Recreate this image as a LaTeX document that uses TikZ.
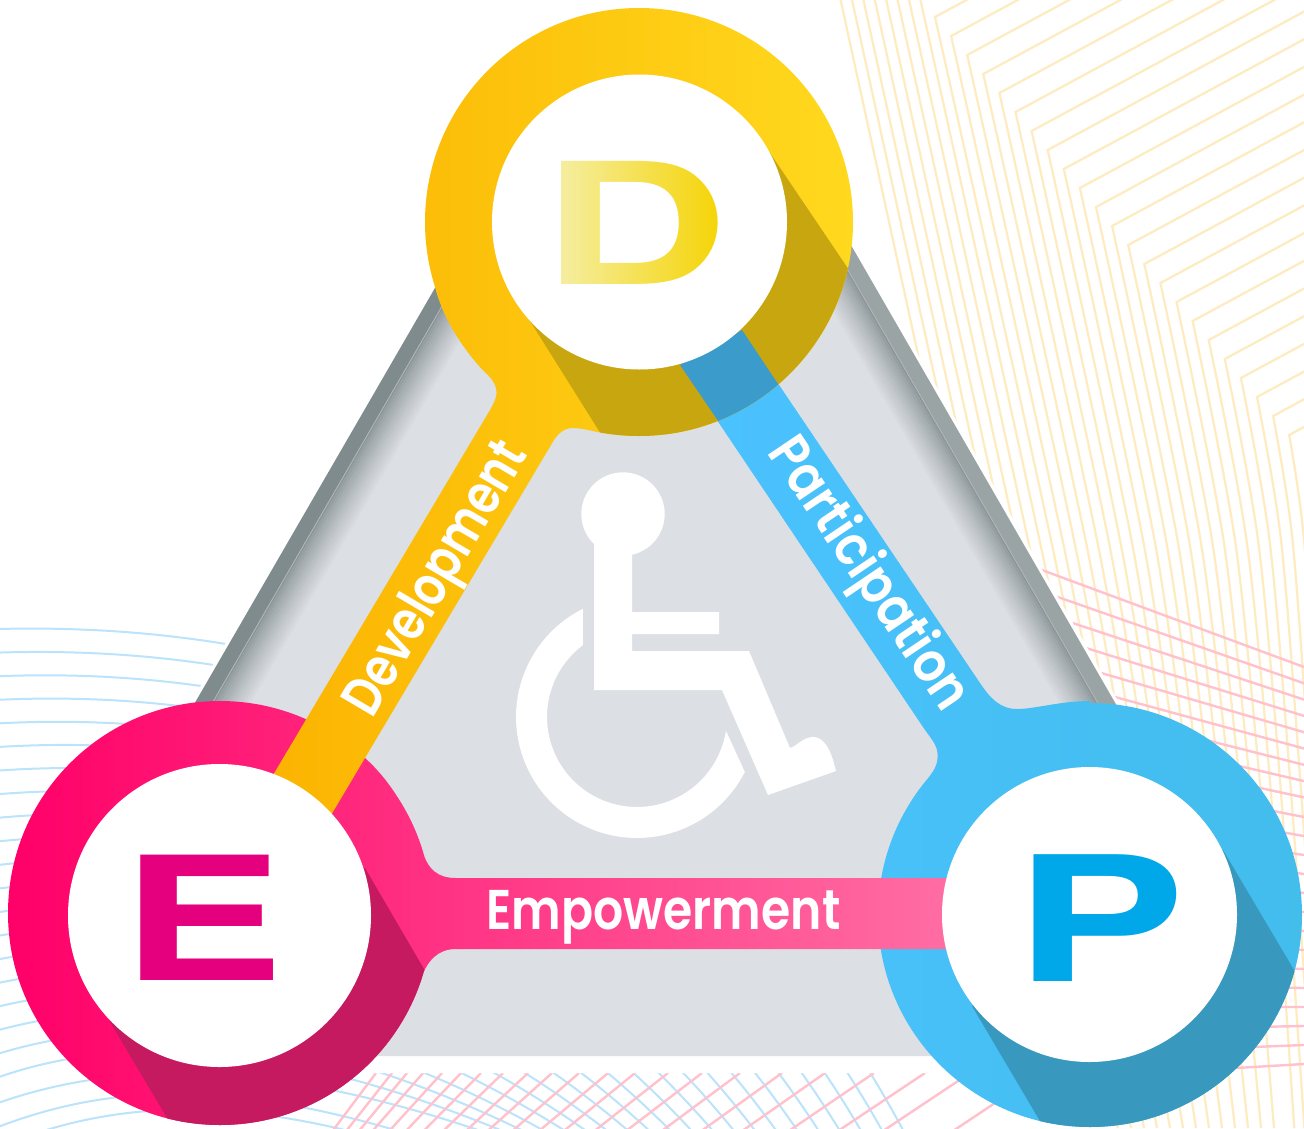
\documentclass[tikz,border=0pt]{standalone}
\usepackage{fontspec}
\usepackage{graphicx}
\newfontfamily\lblfont{Poppins}[UprightFont=* SemiBold]
\newfontfamily\capfont{TeX Gyre Heros}[UprightFont=*-Bold]
\definecolor{ylw}{HTML}{FEEBC0}
\definecolor{pnk}{HTML}{FFC1CC}
\definecolor{blu}{HTML}{BBE3FC}
\definecolor{trigray}{HTML}{DCDFE4}
\definecolor{darkL}{HTML}{7F8B8D}
\definecolor{darkR}{HTML}{9AA4A5}
\definecolor{gradS}{HTML}{8C9698}
\definecolor{shadeD}{HTML}{C8A610}
\definecolor{shadeE}{HTML}{C51A60}
\definecolor{shadeP}{HTML}{3998BE}
\definecolor{shadeB}{HTML}{3B9BCB}
\tikzset{
  ylwline/.style={draw=ylw,line width=2.2pt},
  pnkline/.style={draw=pnk,line width=2.4pt},
  bluline/.style={draw=blu,line width=2pt},
  lbl/.style={text=white,inner sep=0pt,anchor=base,font=\lblfont\fontsize{56}{56}\selectfont},
  bigcap/.style={inner sep=0pt,anchor=base west}
}
\newcommand{\Dbody}{(639,222) circle (214) (600,432) .. controls (590,431) and (582,428) .. (573,428) .. controls (562,428) and (556,436) .. (551,445) -- (321,832) -- (263,792) -- (490,410) .. controls (495,401) and (498,395) .. (496,388) .. controls (493,378) and (486,374) .. (480,367) .. controls (460,345) and (442,315) .. (435,287) -- (639,222) -- cycle}
\newcommand{\Ebody}{(220,913) circle (212) (365,758) .. controls (395,785) and (412,820) .. (422,850) .. controls (428,870) and (438,878) .. (456,878) -- (950,878) -- (950,949) -- (456,949) .. controls (438,949) and (428,960) .. (421,978) .. controls (412,1005) and (402,1022) .. (389,1040) -- (220,913) -- cycle}
\newcommand{\Pbody}{(1090,915) circle (212) (925,782) .. controls (932,773) and (940,765) .. (937,750) .. controls (935,742) and (929,736) .. (923,727) -- (680,365) -- (742,330) -- (980,683) .. controls (990,698) and (1000,709) .. (1017,709) .. controls (1035,709) and (1060,701) .. (1090,701) -- (1090,915) -- cycle}
\begin{document}
\begin{tikzpicture}[x=1pt,y=-1pt]
\useasboundingbox (0,0) rectangle (1304,1128);
\clip (0,0) rectangle (1304,1128);
\fill[white] (0,0) rectangle (1304,1128);
% yellow chevrons
\foreach \i in {-8,...,22}{
  \pgfmathsetmacro{\xa}{1028+11.5*(\i+2)}
  \pgfmathsetmacro{\sl}{0.24-0.00571*(\i+8)}
  \pgfmathsetmacro{\xb}{\xa+\sl*240}
  \ifnum\i<0
    \pgfmathsetmacro{\tx}{920+11.4*(\i+1)}
    \pgfmathsetmacro{\xc}{\xb+\sl*20}
    \draw[ylwline] plot[smooth,tension=.5] coordinates {(\tx,-2) (\xa,540) (\xb,780) (\xc,800)};
  \else
    \pgfmathsetmacro{\cx}{935+16.1*\i}
    \pgfmathsetmacro{\cy}{17+19*\i}
    \pgfmathsetmacro{\ey}{\cy-0.54*(1310-\cx)}
    \ifnum\i<17\relax
      \pgfmathsetmacro{\xc}{\xb+\sl*20}
      \draw[ylwline] (1310,\ey) -- (\cx,\cy) -- plot[smooth,tension=.5] coordinates {(\cx,\cy) (\xa,540) (\xb,780) (\xc,800)};
    \else
      \pgfmathsetmacro{\xc}{\xb+0.07*348}
      \draw[ylwline] (1310,\ey) -- (\cx,\cy) -- plot[smooth,tension=.5] coordinates {(\cx,\cy) (\xa,540) (\xb,780) (\xc,1128)};
    \fi
  \fi
}
\foreach \k in {1,...,13}{
  \pgfmathsetmacro{\xe}{1287-13*\k}
  \pgfmathsetmacro{\xs}{\xe-(0.07+0.012*\k)*328}
  \draw[ylwline] (\xs,800) -- (\xe,1128);
}
% pink lines, right
\foreach \k in {0,...,22}{
  \pgfmathsetmacro{\ry}{\k<9 ? 667+16.3*\k : 798+19*(\k-8)}
  \pgfmathsetmacro{\sk}{0.37-0.0195*\k}
  \pgfmathsetmacro{\ly}{\ry-\sk*304}
  \draw[pnkline] (1000,\ly) -- (1304,\ry);
}
% blue arcs
\foreach \j in {0,...,19}{
  \pgfmathsetmacro{\ya}{629+23.6*\j}
  \pgfmathsetmacro{\ax}{350-12.1*\j}
  \pgfmathsetmacro{\ay}{620+21.8*\j}
  \pgfmathsetmacro{\bx}{700-22*\j}
  \pgfmathsetmacro{\by}{750+15.3*\j}
  \pgfmathsetmacro{\cx}{903-21.2*\j}
  \draw[bluline] (-2,\ya) .. controls (\ax,\ay) and (\bx,\by) .. (\cx,1130);
}
\draw[bluline] (-2,1103) .. controls (120,1060) and (270,1060) .. (478,1130);
\draw[bluline] (-2,1127) .. controls (120,1080) and (240,1085) .. (395,1130);
\draw[bluline] (40,1132) .. controls (140,1100) and (240,1105) .. (345,1130);
% pink lines, bottom
\foreach \tx [count=\n from 0] in {376,392,407,423,442,461,481,503,528,552,579,608,635,668,702,740,782,825,874,925,970,1040}{
  \pgfmathsetmacro{\rt}{min(1.5,0.75+0.04*\n)}
  \pgfmathsetmacro{\xe}{\tx-\rt*60}
  \draw[pnkline] (\tx,1073) -- (\xe,1133);
}
% white margin and triangle
\fill[white] (453,250) -- (849,235) -- (1129,720) -- (1000,1073) -- (340,1073) -- (181,720) -- cycle;
\fill[trigray] (457,250) -- (845,235) -- (1125,720) -- (1000,1056) -- (340,1056) -- (185,720) -- cycle;
% left bevel
\foreach \t in {0,...,13}{
  \pgfmathsetmacro{\off}{18.5+3*\t}
  \pgfmathsetmacro{\pp}{100-100*(\t/13)^0.8}
  \pgfmathsetmacro{\xa}{457+\off}
  \pgfmathsetmacro{\xb}{185+\off}
  \draw[line width=2.8pt,color=gradS!\pp!trigray] (\xa,250) -- (\xb,720);
}
\fill[darkL] (457,250) -- (474,250) -- (202,720) -- (185,720) -- cycle;
\draw[line width=.6pt,color=gradS!45!trigray] (474.5,250) -- (202.5,720);
% right bevel
\foreach \t in {0,...,13}{
  \pgfmathsetmacro{\off}{18.5+3*\t}
  \pgfmathsetmacro{\pp}{100-100*(\t/13)^0.8}
  \pgfmathsetmacro{\xa}{848-\off}
  \pgfmathsetmacro{\xb}{1125-\off}
  \draw[line width=2.8pt,color=gradS!\pp!trigray] (\xa,240) -- (\xb,720);
}
\fill[darkR] (848,240) -- (831,240) -- (1108,720) -- (1125,720) -- cycle;
\draw[line width=.6pt,color=gradS!45!trigray] (830.5,240) -- (1107.5,720);
% wheelchair
\fill[white] (623,514) circle (41.7);
\fill[white] (594,530) -- (594,690) -- (722,690) -- (768,795) -- (836,771) .. controls (830,745) and (822,737) .. (813,737) .. controls (803,737) and (797,746) .. (790,748) -- (749,651) -- (632,651) -- (632,634) -- (719,634) -- (719,612) -- (632,612) -- (632,530) -- cycle;
\fill[white] plot[domain=243.4:27,samples=70] ({637+121*cos(\x)},{717+121*sin(\x)}) -- plot[domain=8.8:233.1,samples=70] ({637+90*cos(\x)},{717+90*sin(\x)}) -- cycle;
% bodies
\shade[left color={rgb,255:red,75;green,194;blue,255},right color={rgb,255:red,66;green,189;blue,236}] \Pbody;
\begin{scope}
  \clip \Pbody;
  \fill[shadeP] (1090,915) -- (972,1006) -- (1047,1133) -- (1320,1133) -- (1320,1014) -- (1294,970) -- (1223,850) -- cycle;
\end{scope}
\shade[left color={rgb,255:red,255;green,0;blue,104},right color={rgb,255:red,255;green,109;blue,163}] \Ebody;
\begin{scope}
  \clip \Ebody;
  \fill[shadeE] (220,915) -- (110,1022) -- (176,1133) -- (450,1133) -- (431,981) -- (365,868) -- cycle;
\end{scope}
\shade[left color={rgb,255:red,251;green,179;blue,0},right color={rgb,255:red,255;green,217;blue,30}] \Dbody;
\begin{scope}
  \clip (639,222) circle (214);
  \fill[shadeD] (639,222) -- (525,313) -- (606,442) -- (870,442) -- (870,300) -- (849,270) -- (768,150) -- cycle;
  \fill[shadeB] (680,365) -- (725,431) -- (790,402) -- (742,330) -- cycle;
\end{scope}
% holes
\fill[white] (639.5,222) circle (147.5);
\fill[white] (219.5,915.5) circle (151.5);
\fill[white] (1089.5,914.5) circle (147.5);
% letters
\node[bigcap,text=black] (letterD) at (541,284) {\capfont\scalebox{1.535}[1]{\fontsize{169}{169}\selectfont D}};
\begin{scope}[blend mode=screen]
  \shade[left color={rgb,255:red,245;green,239;blue,168},middle color={rgb,255:red,245;green,232;blue,26},right color={rgb,255:red,245;green,211;blue,0}] (552,150) rectangle (726,294);
\end{scope}
\node[bigcap,text={rgb,255:red,229;green,0;blue,126}] (letterE) at (121.5,980) {\capfont\scalebox{1.416}[1]{\fontsize{172}{172}\selectfont E}};
\node[bigcap,text={rgb,255:red,0;green,168;blue,234}] (letterP) at (1014.5,981) {\capfont\scalebox{1.473}[1]{\fontsize{174}{174}\selectfont P}};
% labels
\node[lbl] (emp) at (663.5,929) {\scalebox{.845}[1]{Empowerment}};
\node[lbl,rotate=59.5] (dev) at (450,587) {\scalebox{.80}[1]{Development}};
\node[lbl,rotate=-56] (par) at (855,583) {\scalebox{.86}[1]{Participation}};
\end{tikzpicture}
\end{document}
